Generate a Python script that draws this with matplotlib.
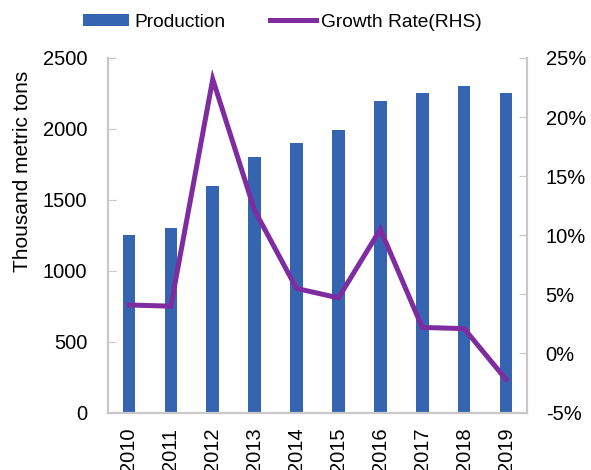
import matplotlib
matplotlib.use("Agg")
import matplotlib.pyplot as plt
from matplotlib.ticker import FuncFormatter
import numpy as np

years = ["2010", "2011", "2012", "2013", "2014", "2015", "2016", "2017", "2018", "2019"]
production = [1250, 1300, 1600, 1800, 1900, 1990, 2200, 2250, 2300, 2250]
growth = [4.1, 4.0, 23.2, 12.1, 5.5, 4.7, 10.5, 2.2, 2.1, -2.2]

plt.rcParams['font.family'] = ['Liberation Sans', 'DejaVu Sans']
FS = 14.5
bar_color = '#3565B0'
line_color = '#7F2CA0'
spine_color = '#C8C8C8'

fig = plt.figure(figsize=(5.91, 4.70), dpi=100)
ax = fig.add_axes([0.1827, 0.1223, 0.709, 0.7543])
ax2 = ax.twinx()

x = np.arange(len(years))
bars = ax.bar(x, production, width=0.3, color=bar_color, label='Production', zorder=2)
line, = ax2.plot(x, growth, color=line_color, linewidth=3.6, label='Growth Rate(RHS)',
                 solid_joinstyle='miter', zorder=3)

ax.set_xlim(-0.5, len(years) - 0.5)
ax.set_ylim(0, 2500)
ax.set_yticks(np.arange(0, 2501, 500))
ax2.set_ylim(-5, 25)
ax2.set_yticks(np.arange(-5, 26, 5))
ax2.yaxis.set_major_formatter(FuncFormatter(lambda v, p: f"{int(v)}%"))

ax.set_xticks(x)
ax.set_xticklabels(years, rotation=90, fontsize=FS)
ax.tick_params(axis='x', length=0, pad=11)
ax.tick_params(axis='y', direction='in', length=6, color=spine_color, labelsize=FS, pad=15)
ax2.tick_params(axis='y', direction='in', length=6, color=spine_color, labelsize=FS, pad=13.5)

for a in (ax, ax2):
    a.spines['top'].set_visible(False)
    for s in ('left', 'right', 'bottom'):
        a.spines[s].set_color(spine_color)
        a.spines[s].set_linewidth(1.5)

fig.text(23 / 591, 1 - 171 / 470, 'Thousand metric tons', rotation=90,
         ha='center', va='center', fontsize=15)

ax.set_zorder(1)
ax2.set_zorder(2)
ax2.patch.set_visible(False)

fig.legend([bars, line], ['Production', 'Growth Rate(RHS)'], loc='center',
           bbox_to_anchor=(0.478, 0.953), ncol=2, frameon=False, fontsize=13.8,
           handlelength=2.4, handletextpad=0.3, columnspacing=2.3, handleheight=0.55)

fig.savefig('out.png', dpi=100)
